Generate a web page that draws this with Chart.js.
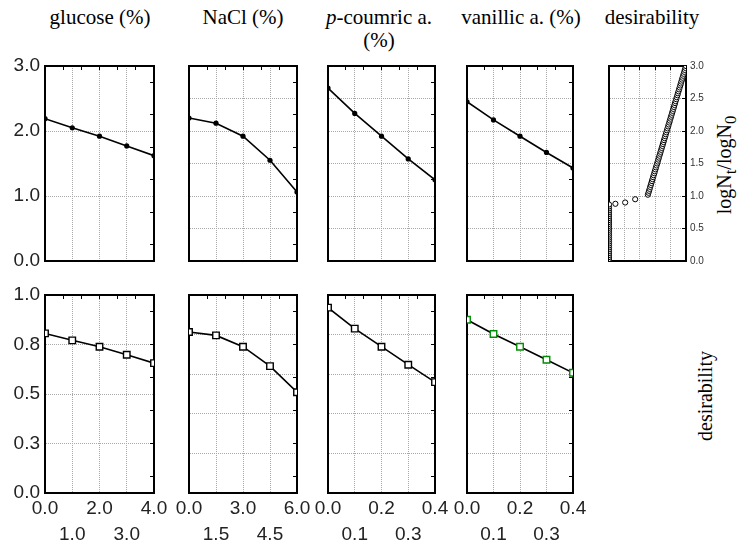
<!DOCTYPE html>
<html>
<head>
<meta charset="utf-8">
<script src="https://cdn.jsdelivr.net/npm/chart.js@4.4.1/dist/chart.umd.min.js"></script>
<style>
  body { margin: 0; background: #fff; }
  #painel { position: relative; width: 739px; height: 548px; overflow: hidden; color: #000; }
  canvas { position: absolute; }
  .titulo { position: absolute; top: 6px; font-family: 'Liberation Serif', serif; font-size: 21px; line-height: 23px; text-align: center; white-space: nowrap; transform: translateX(-50%); }
  .rotulo { position: absolute; font-family: 'Liberation Serif', serif; font-size: 20px; white-space: nowrap; transform: translate(-50%, -50%) rotate(-90deg); }
</style>
</head>
<body>
<div id="painel">
  <div class="titulo" style="left:100px">glucose (%)</div>
  <div class="titulo" style="left:243px">NaCl (%)</div>
  <div class="titulo" style="left:379px"><i>p</i>-coumric a.<br>(%)</div>
  <div class="titulo" style="left:521px">vanillic a. (%)</div>
  <div class="titulo" style="left:652px">desirability</div>
  <div class="rotulo" style="left:727px; top:165px">logN<sub>t</sub>/logN<sub>0</sub></div>
  <div class="rotulo" style="left:705px; top:396px">desirability</div>

  <canvas id="logGlucose"></canvas>
  <canvas id="logNacl"></canvas>
  <canvas id="logCumarico"></canvas>
  <canvas id="logVanilico"></canvas>
  <canvas id="perfil"></canvas>
  <canvas id="desGlucose"></canvas>
  <canvas id="desNacl"></canvas>
  <canvas id="desCumarico"></canvas>
  <canvas id="desVanilico"></canvas>
</div>

<script>
//Níveis dos fatores
const glucoseX = [0, 1, 2, 3, 4];
const naclX = [0, 1.5, 3, 4.5, 6];
const cumaricoX = [0, 0.1, 0.2, 0.3, 0.4];
const vanilicoX = [0, 0.1, 0.2, 0.3, 0.4];

//Resposta logNt/logN0 (linha de cima)
const glucoseLog = [2.19, 2.05, 1.92, 1.77, 1.62];
const naclLog = [2.20, 2.12, 1.92, 1.55, 1.06];
const cumaricoLog = [2.66, 2.27, 1.92, 1.57, 1.25];
const vanilicoLog = [2.45, 2.17, 1.92, 1.67, 1.43];

//Desirability (linha de baixo)
const glucoseDes = [0.806, 0.771, 0.739, 0.698, 0.656];
const naclDes = [0.813, 0.796, 0.739, 0.641, 0.509];
const cumaricoDes = [0.936, 0.830, 0.739, 0.648, 0.560];
const vanilicoDes = [0.875, 0.803, 0.739, 0.673, 0.607];

//Perfil de desirability (painel da direita): coluna em desirability 0
const colunaLog = [0.00, 0.03, 0.06, 0.09, 0.12, 0.15, 0.18, 0.21, 0.24, 0.27,
                   0.30, 0.33, 0.36, 0.39, 0.42, 0.45, 0.48, 0.51, 0.54, 0.57,
                   0.60, 0.63, 0.66, 0.69, 0.72, 0.75, 0.78, 0.81, 0.84, 0.87];
//pontos soltos
const soltosDes = [0.083, 0.21, 0.34];
const soltosLog = [0.88, 0.90, 0.95];
//trecho em rampa
const rampaDes = [0.505, 0.513, 0.520, 0.528, 0.535, 0.543, 0.550, 0.558, 0.565, 0.573,
                  0.580, 0.588, 0.595, 0.603, 0.610, 0.618, 0.625, 0.633, 0.640, 0.648,
                  0.655, 0.663, 0.670, 0.678, 0.685, 0.693, 0.700, 0.708, 0.715, 0.723,
                  0.730, 0.738, 0.745, 0.753, 0.760, 0.768, 0.775, 0.783, 0.790, 0.798,
                  0.805, 0.813, 0.820, 0.828, 0.835, 0.843, 0.850, 0.858, 0.865, 0.873,
                  0.880, 0.888, 0.895, 0.903, 0.910, 0.918, 0.925, 0.933, 0.940, 0.948,
                  0.955, 0.963, 0.970, 0.978, 0.985, 0.993, 1.000];
const rampaLog = [1.02, 1.05, 1.08, 1.11, 1.14, 1.17, 1.20, 1.23, 1.26, 1.29,
                  1.32, 1.35, 1.38, 1.41, 1.44, 1.47, 1.50, 1.53, 1.56, 1.59,
                  1.62, 1.65, 1.68, 1.71, 1.74, 1.77, 1.80, 1.83, 1.86, 1.89,
                  1.92, 1.95, 1.98, 2.01, 2.04, 2.07, 2.10, 2.13, 2.16, 2.19,
                  2.22, 2.25, 2.28, 2.31, 2.34, 2.37, 2.40, 2.43, 2.46, 2.49,
                  2.52, 2.55, 2.58, 2.61, 2.64, 2.67, 2.70, 2.73, 2.76, 2.79,
                  2.82, 2.85, 2.88, 2.91, 2.94, 2.97, 3.00];

//Ticks dos eixos
const ticksGlucose = [0, 1, 2, 3, 4];
const ticksNacl = [0, 1.5, 3, 4.5, 6];
const ticksAcido = [0, 0.1, 0.2, 0.3, 0.4];
const ticksPerfil = [0, 0.2, 0.4, 0.6, 0.8, 1];
const ticksLogUm = [0, 1, 2, 3];
const ticksLogMeio = [0, 0.5, 1, 1.5, 2, 2.5, 3];
const ticksDesQuarto = [0, 0.25, 0.5, 0.75, 1];
const ticksDesQuinto = [0, 0.2, 0.4, 0.6, 0.8, 1];

const margem = { esq: 45, dir: 30, topo: 14, base: 60 };
const fonteTick = { family: "'Liberation Sans', Arial, sans-serif", size: 19, lineHeight: 26 / 19 };

function pares(xs, ys) {
    return xs.map((x, i) => ({ x: x, y: ys[i] }));
}

function definirTicks(valores) {
    return function (scale) {
        scale.ticks = valores.map(v => ({ value: v }));
    };
}

//marcas menores (lado de dentro) nas bordas de cima e da direita
function marcasMenores(min, max, desloc) {
    const lista = [];
    for (let k = 0; k < 6; k++) {
        const v = min + (max - min) * (k + desloc) / 6;
        if (v > min && v < max) lista.push(v);
    }
    return lista;
}

function fixar(prop, tamanho) {
    return function (scale) {
        scale[prop] = tamanho;
        scale.paddingLeft = 0;
        scale.paddingRight = 0;
        scale.paddingTop = 0;
        scale.paddingBottom = 0;
    };
}

function serieLinha(xs, ys, estilo) {
    return Object.assign({
        data: pares(xs, ys),
        borderColor: '#000',
        borderWidth: 1.6,
        tension: 0,
        clip: 0
    }, estilo);
}

const bolinha = { pointRadius: 2.6, pointBackgroundColor: '#000', pointBorderColor: '#000', pointBorderWidth: 0 };
const quadrado = { pointStyle: 'rect', pointRadius: 4.6, pointBackgroundColor: '#fff', pointBorderColor: '#000', pointBorderWidth: 1.4 };
const quadradoVerde = Object.assign({}, quadrado, { pointBorderColor: '#008c00' });

function criarPainel(id, caixa, cfg) {
    const tela = document.getElementById(id);
    tela.width = caixa.w + margem.esq + margem.dir;
    tela.height = caixa.h + margem.topo + margem.base;
    tela.style.width = tela.width + 'px';
    tela.style.height = tela.height + 'px';
    tela.style.left = (caixa.x - margem.esq) + 'px';
    tela.style.top = (caixa.y - margem.topo) + 'px';

    const grade = { color: '#a8a8a8', lineWidth: 1, drawTicks: false };
    const borda = { display: true, color: '#000', width: 2, dash: [1, 1] };
    const marcas = { drawOnChartArea: false, drawTicks: true, tickLength: -4, tickColor: '#000', tickWidth: 1 };

    return new Chart(tela, {
        type: 'line',
        data: { datasets: cfg.series },
        options: {
            responsive: false,
            animation: false,
            events: [],
            layout: { padding: 0, autoPadding: false },
            plugins: { legend: { display: false }, tooltip: { enabled: false } },
            scales: {
                x: {
                    type: 'linear', position: 'bottom', min: cfg.xMin, max: cfg.xMax,
                    grid: grade, border: borda,
                    ticks: {
                        display: cfg.rotulosX, font: fonteTick, color: '#222', padding: 3,
                        autoSkip: false, maxRotation: 0, minRotation: 0,
                        callback: (v, i) => i % 2 ? ['', v.toFixed(1)] : v.toFixed(1)
                    },
                    afterBuildTicks: definirTicks(cfg.xTicks),
                    afterFit: fixar('height', margem.base)
                },
                y: {
                    type: 'linear', position: 'left', min: cfg.yMin, max: cfg.yMax,
                    grid: grade, border: borda,
                    ticks: {
                        display: cfg.rotulosY, font: fonteTick, color: '#222', padding: 5,
                        autoSkip: false, callback: v => v.toFixed(1)
                    },
                    afterBuildTicks: definirTicks(cfg.yTicks),
                    afterFit: fixar('width', margem.esq)
                },
                xt: {
                    type: 'linear', position: 'top', min: cfg.xMin, max: cfg.xMax,
                    grid: marcas, border: { display: true, color: '#000', width: 2 },
                    ticks: { display: false },
                    afterBuildTicks: definirTicks(cfg.marcasTopo || marcasMenores(cfg.xMin, cfg.xMax, 0)),
                    afterFit: fixar('height', margem.topo)
                },
                yr: {
                    type: 'linear', position: 'right', min: cfg.yMin, max: cfg.yMax,
                    grid: marcas, border: { display: true, color: '#000', width: 2 },
                    ticks: {
                        display: !!cfg.rotulosDireita, padding: 8, color: '#333',
                        font: { family: "'Liberation Sans', Arial, sans-serif", size: 10 },
                        autoSkip: false, callback: v => v.toFixed(1)
                    },
                    afterBuildTicks: definirTicks(cfg.marcasDireita || marcasMenores(cfg.yMin, cfg.yMax, 0.5)),
                    afterFit: fixar('width', margem.dir)
                }
            }
        }
    });
}

//Posições dos painéis (área de plotagem)
const linhaCima = { y: 66, h: 195 };
const linhaBaixo = { y: 295, h: 198 };
const colunas = [
    { x: 45, w: 109 },
    { x: 189, w: 108 },
    { x: 328, w: 107 },
    { x: 467, w: 106 },
    { x: 609, w: 77 }
];

function caixa(col, linha) {
    return { x: colunas[col].x, w: colunas[col].w, y: linha.y, h: linha.h };
}

//Linha de cima: logNt/logN0
criarPainel('logGlucose', caixa(0, linhaCima), {
    series: [serieLinha(glucoseX, glucoseLog, bolinha)],
    xMin: 0, xMax: 4, xTicks: ticksGlucose, rotulosX: false,
    yMin: 0, yMax: 3, yTicks: ticksLogUm, rotulosY: true
});
criarPainel('logNacl', caixa(1, linhaCima), {
    series: [serieLinha(naclX, naclLog, bolinha)],
    xMin: 0, xMax: 6, xTicks: ticksNacl, rotulosX: false,
    yMin: 0, yMax: 3, yTicks: ticksLogMeio, rotulosY: false
});
criarPainel('logCumarico', caixa(2, linhaCima), {
    series: [serieLinha(cumaricoX, cumaricoLog, bolinha)],
    xMin: 0, xMax: 0.4, xTicks: ticksAcido, rotulosX: false,
    yMin: 0, yMax: 3, yTicks: ticksLogMeio, rotulosY: false
});
criarPainel('logVanilico', caixa(3, linhaCima), {
    series: [serieLinha(vanilicoX, vanilicoLog, bolinha)],
    xMin: 0, xMax: 0.4, xTicks: ticksAcido, rotulosX: false,
    yMin: 0, yMax: 3, yTicks: ticksLogMeio, rotulosY: false
});

//Painel do perfil de desirability
const circulo = { showLine: false, pointRadius: 2.6, pointBackgroundColor: '#fff', pointBorderColor: '#000', pointBorderWidth: 1, clip: 0 };
criarPainel('perfil', caixa(4, linhaCima), {
    series: [
        Object.assign({ data: colunaLog.map(v => ({ x: 0, y: v })) }, circulo),
        Object.assign({ data: pares(soltosDes, soltosLog) }, circulo),
        Object.assign({ data: pares(rampaDes, rampaLog) }, circulo)
    ],
    xMin: 0, xMax: 1, xTicks: ticksPerfil, rotulosX: false, marcasTopo: ticksPerfil,
    yMin: 0, yMax: 3, yTicks: ticksLogMeio, rotulosY: false,
    marcasDireita: ticksLogMeio, rotulosDireita: true
});

//Linha de baixo: desirability
criarPainel('desGlucose', caixa(0, linhaBaixo), {
    series: [serieLinha(glucoseX, glucoseDes, quadrado)],
    xMin: 0, xMax: 4, xTicks: ticksGlucose, rotulosX: true,
    yMin: 0, yMax: 1, yTicks: ticksDesQuarto, rotulosY: true
});
criarPainel('desNacl', caixa(1, linhaBaixo), {
    series: [serieLinha(naclX, naclDes, quadrado)],
    xMin: 0, xMax: 6, xTicks: ticksNacl, rotulosX: true,
    yMin: 0, yMax: 1, yTicks: ticksDesQuinto, rotulosY: false
});
criarPainel('desCumarico', caixa(2, linhaBaixo), {
    series: [serieLinha(cumaricoX, cumaricoDes, quadrado)],
    xMin: 0, xMax: 0.4, xTicks: ticksAcido, rotulosX: true,
    yMin: 0, yMax: 1, yTicks: ticksDesQuinto, rotulosY: false
});
criarPainel('desVanilico', caixa(3, linhaBaixo), {
    series: [serieLinha(vanilicoX, vanilicoDes, quadradoVerde)],
    xMin: 0, xMax: 0.4, xTicks: ticksAcido, rotulosX: true,
    yMin: 0, yMax: 1, yTicks: ticksDesQuinto, rotulosY: false
});
</script>
</body>
</html>
